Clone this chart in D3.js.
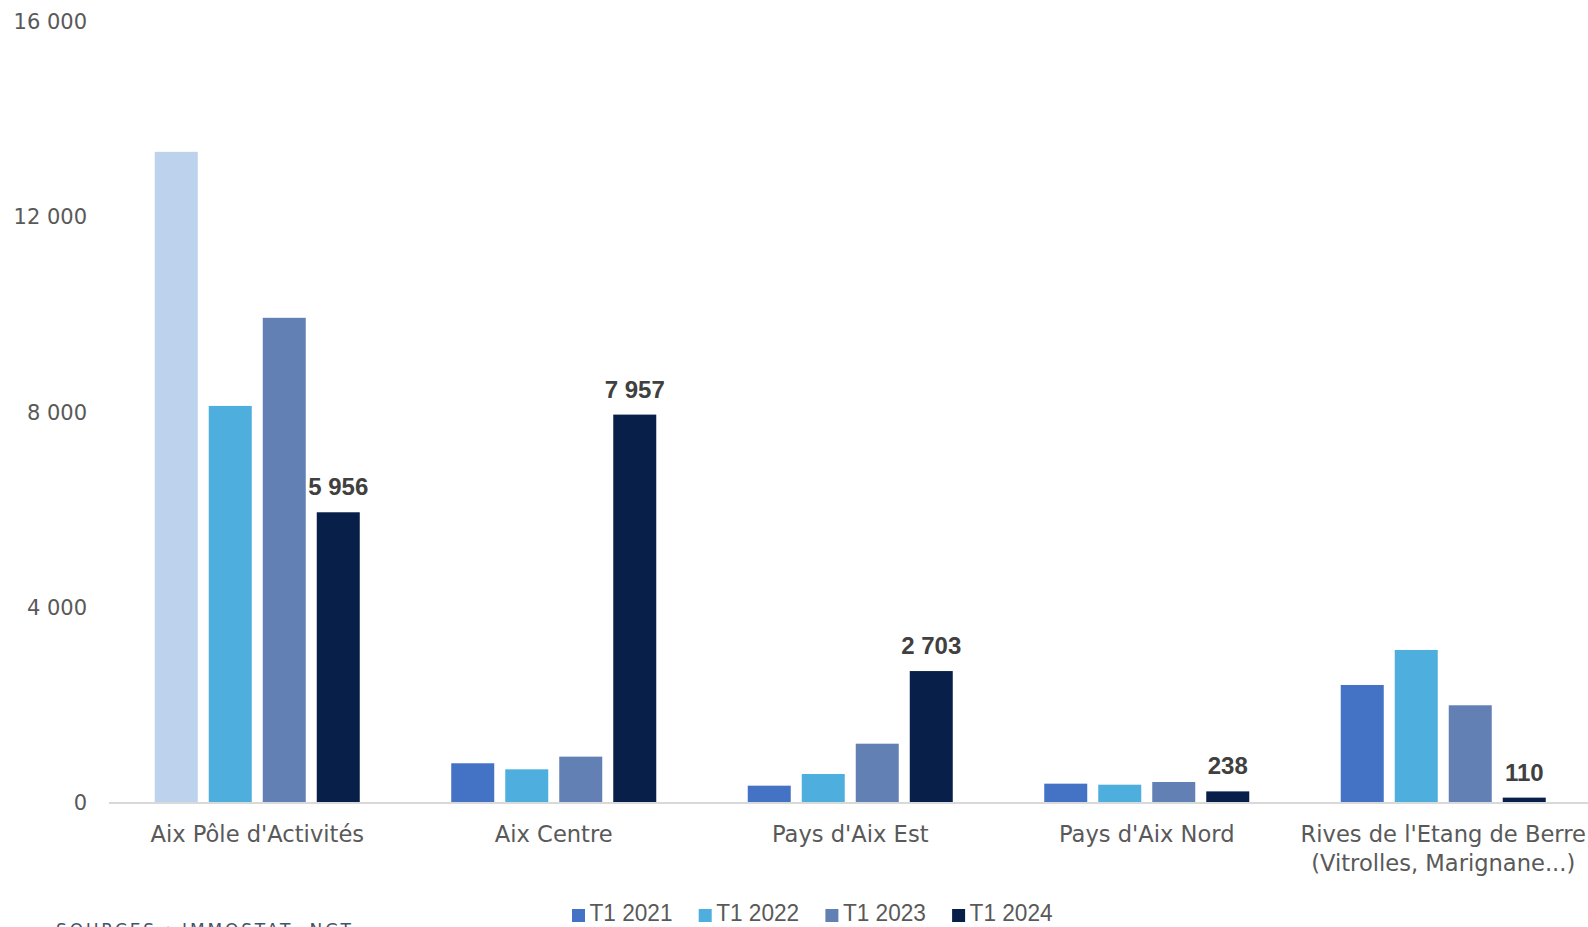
<!DOCTYPE html>
<html>
<head>
<meta charset="utf-8">
<script src="https://cdn.jsdelivr.net/npm/d3@7"></script>
<style>
  html, body { margin: 0; padding: 0; background: #ffffff; overflow: hidden; }
  svg { display: block; }
</style>
</head>
<body>
<svg id="chart" width="1588" height="927"></svg>
<script>
// Categories (zones) and quarterly series
const categories = [
  "Aix Pôle d'Activités",
  "Aix Centre",
  "Pays d'Aix Est",
  "Pays d'Aix Nord",
  "Rives de l'Etang de Berre\n(Vitrolles, Marignane...)"
];
const seriesNames = ["T1 2021", "T1 2022", "T1 2023", "T1 2024"];
const valuesT1_2021 = [13340, 814, 355, 396, 2418];
const valuesT1_2022 = [8135, 690, 594, 375, 3135];
const valuesT1_2023 = [9940, 950, 1215, 430, 2002];
const valuesT1_2024 = [5956, 7957, 2703, 238, 110];
const yTicks = [0, 4000, 8000, 12000, 16000];
const seriesColors = ["#4472C4", "#4EAFDE", "#6380B5", "#081F4A"];
// Individually recoloured data points
const pointColorOverrides = [
  { series: "T1 2021", category: "Aix Pôle d'Activités", color: "#BDD2EC" }
];
// Only the latest quarter carries value labels
const labelledSeries = ["T1 2024"];
const sourceText = "SOURCES : IMMOSTAT, NGT";

const allValues = [valuesT1_2021, valuesT1_2022, valuesT1_2023, valuesT1_2024];
const rows = [];
seriesNames.forEach((s, si) => {
  categories.forEach((c, ci) => {
    rows.push({ series: s, category: c, value: allValues[si][ci], si });
  });
});

const svg = d3.select("#chart");
const fr = d3.formatLocale({ decimal: ",", thousands: " ", grouping: [3], currency: ["", " €"] });
const fmt = fr.format(",d");

const plotLeft = 109, step = 296.5;
const x = d3.scaleBand()
  .domain(categories)
  .range([plotLeft, plotLeft + step * categories.length])
  .padding(0);
const xInner = d3.scaleBand()
  .domain(seriesNames)
  .range([0, x.bandwidth()])
  .paddingInner(11 / 54)
  .paddingOuter(0.847);
const y = d3.scaleLinear().domain([0, 16000]).range([803, 22]);

// Y axis labels (no axis line, no gridlines)
const yAxis = d3.axisLeft(y).tickValues(yTicks).tickFormat(fmt).tickSize(0).tickPadding(0);
const yG = svg.append("g").attr("transform", "translate(87,0)").call(yAxis);
yG.select(".domain").remove();
yG.selectAll("text")
  .attr("fill", "#595959")
  .attr("font-family", "'DejaVu Sans', sans-serif")
  .attr("font-size", 21);

// Bars
const colorFor = d => {
  const o = pointColorOverrides.find(p => p.series === d.series && p.category === d.category);
  return o ? o.color : seriesColors[d.si];
};
svg.append("g").selectAll("rect")
  .data(rows)
  .join("rect")
  .attr("x", d => x(d.category) + xInner(d.series))
  .attr("width", xInner.bandwidth())
  .attr("y", d => y(d.value))
  .attr("height", d => y(0) - y(d.value))
  .attr("fill", colorFor);

// Baseline
svg.append("line")
  .attr("x1", plotLeft).attr("x2", 1588)
  .attr("y1", y(0)).attr("y2", y(0))
  .attr("stroke", "#D9D9D9").attr("stroke-width", 2);

// Value labels
svg.append("g").selectAll("text")
  .data(rows.filter(d => labelledSeries.includes(d.series)))
  .join("text")
  .attr("x", d => x(d.category) + xInner(d.series) + xInner.bandwidth() / 2)
  .attr("y", d => y(d.value) - 17)
  .attr("text-anchor", "middle")
  .attr("font-family", "'Liberation Sans', Arial, sans-serif")
  .attr("font-weight", "bold")
  .attr("font-size", 24)
  .attr("fill", "#404040")
  .text(d => fmt(d.value));

// Category labels
const catG = svg.append("g");
categories.forEach(c => {
  const lines = c.split("\n");
  const t = catG.append("text")
    .attr("x", x(c) + x.bandwidth() / 2)
    .attr("y", 842)
    .attr("text-anchor", "middle")
    .attr("font-family", "'DejaVu Sans', sans-serif")
    .attr("font-size", 22.6)
    .attr("fill", "#595959");
  lines.forEach((ln, i) => {
    t.append("tspan")
      .attr("x", x(c) + x.bandwidth() / 2)
      .attr("dy", i === 0 ? 0 : 29)
      .text(ln);
  });
});

// Legend
const legendX = 572, legendStep = 126.7;
const lg = svg.append("g");
seriesNames.forEach((s, i) => {
  const gx = legendX + i * legendStep;
  lg.append("rect")
    .attr("x", gx).attr("y", 909)
    .attr("width", 13).attr("height", 13)
    .attr("fill", seriesColors[i]);
  lg.append("text")
    .attr("x", gx + 17.5).attr("y", 921)
    .attr("font-family", "'Liberation Sans', Arial, sans-serif")
    .attr("font-size", 24)
    .attr("fill", "#595959")
    .attr("textLength", 83)
    .attr("lengthAdjust", "spacingAndGlyphs")
    .text(s);
});

// Source note along the bottom edge
svg.append("text")
  .attr("x", 56).attr("y", 936)
  .attr("font-family", "'DejaVu Sans', sans-serif")
  .attr("font-size", 17)
  .attr("fill", "#44546A")
  .attr("textLength", 295)
  .attr("lengthAdjust", "spacing")
  .text(sourceText);
</script>
</body>
</html>
